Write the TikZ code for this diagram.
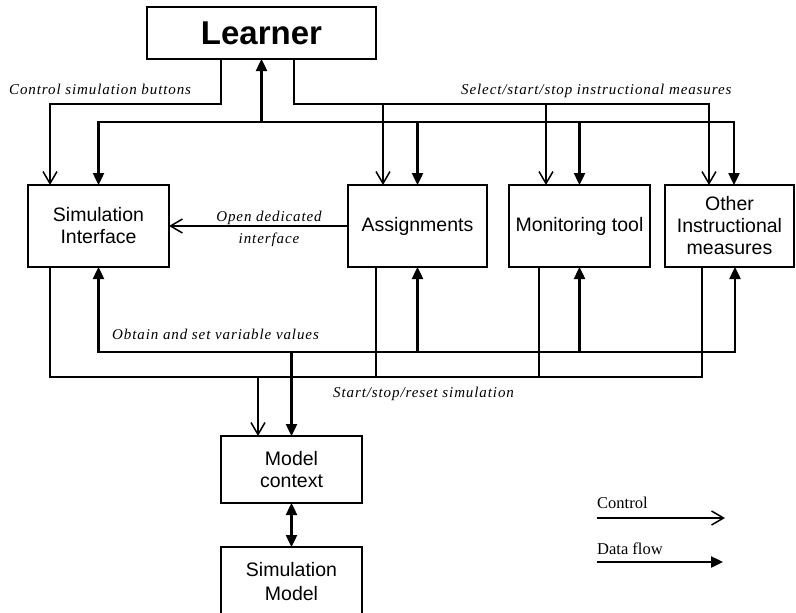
\documentclass[tikz,border=0pt]{standalone}
\usepackage{fontspec}
\setmainfont{Liberation Serif}
\newfontfamily\boxfont{Liberation Sans}
\newfontfamily\labfont[LetterSpace=6]{Liberation Serif}
\usetikzlibrary{arrows.meta}
\begin{document}
\begin{tikzpicture}[x=1pt,y=-1pt,
  box/.style={draw, line width=1.5pt, inner sep=0pt, outer sep=0pt, align=center,
    font=\boxfont\fontsize{19.5}{22}\selectfont},
  ctrl/.style={line width=1.5pt, -{Straight Barb[length=12pt,width=14pt]}},
  ctrlline/.style={line width=1.5pt},
  data/.style={line width=2.4pt, -{Triangle[length=12pt,width=11pt]}},
  databoth/.style={line width=2.4pt, {Triangle[length=12pt,width=11pt]}-{Triangle[length=12pt,width=11pt]}},
  lab/.style={font=\labfont\itshape\fontsize{15}{18}\selectfont, inner sep=0pt, anchor=base west},
  leg/.style={font=\fontsize{16.5}{18}\selectfont, inner sep=0pt, anchor=base west},
]
\useasboundingbox (0,0) rectangle (796,613);

% boxes
\node[box, minimum width=229, minimum height=52,
  font=\boxfont\bfseries\fontsize{33}{36}\selectfont] (learner) at (261.5,33) {Learner};
\node[box, minimum width=141, minimum height=82] (simif) at (98.5,226) {Simulation\\Interface};
\node[box, minimum width=139, minimum height=82] (assign) at (417.5,226) {Assignments};
\node[box, minimum width=141, minimum height=82] (monitor) at (579.5,226) {Monitoring tool};
\node[box, minimum width=129, minimum height=82] (other) at (729.5,226) {Other\\Instructional\\measures};
\node[box, minimum width=141, minimum height=67] (modelctx) at (291.5,469.5) {Model\\context};
\node[box, draw=none, minimum width=141, minimum height=70, anchor=north,
  font=\boxfont\fontsize{19.5}{24}\selectfont] (simmodel) at (291.5,547) {Simulation\\Model};
\draw[line width=1.5pt] (simmodel.south west) -- (simmodel.north west) -- (simmodel.north east) -- (simmodel.south east);

% labels
\node[lab] (lcsb) at (9,94) {Control simulation buttons};
\node[lab] (lsel) at (461,94) {Select/start/stop instructional measures};
\node[lab] (lobt) at (112,339) {Obtain and set variable values};
\node[lab] (lsss) at (333,397) {Start/stop/reset simulation};
\node[lab, anchor=base] (lopen1) at (269,221) {Open dedicated};
\node[lab, anchor=base] (lopen2) at (269,243) {interface};

% control connectors from learner
\draw[ctrl] ([xshift=74]learner.south west) -- ++(0,45) -| ([xshift=22]simif.north west);
\draw[ctrl] ([xshift=147]learner.south west) -- ++(0,45) -| ([xshift=44]other.north west);
\draw[ctrl] ([xshift=35,yshift=81]assign.north west) -- ([xshift=35]assign.north west);
\draw[ctrl] ([xshift=37,yshift=81]monitor.north west) -- ([xshift=37]monitor.north west);

% data bus top
\draw[databoth] (simif.north) -- ++(0,-63) -| ([xshift=69]other.north west);
\draw[data] ([yshift=63]assign.north) -- (assign.north);
\draw[data] ([yshift=63]monitor.north) -- (monitor.north);
\draw[data] ([yshift=-63]learner.south) -- (learner.south);

% open dedicated interface
\draw[ctrl] (assign.west) -- (simif.east);

% data bus bottom
\draw[databoth] (simif.south) -- ++(0,85) -| ([xshift=70]other.south west);
\draw[data] ([yshift=-85]assign.south) -- (assign.south);
\draw[data] ([yshift=-85]monitor.south) -- (monitor.south);
\draw[data] ([yshift=84]modelctx.north) -- (modelctx.north);

% control bus bottom
\draw[ctrlline] ([xshift=22]simif.south west) -- ++(0,110) -| ([xshift=37]other.south west);
\draw[ctrlline] ([xshift=28]assign.south west) -- ++(0,110);
\draw[ctrlline] ([xshift=30]monitor.south west) -- ++(0,110);
\draw[ctrl] ([xshift=37,yshift=59]modelctx.north west) -- ([xshift=37]modelctx.north west);

% model context <-> simulation model
\draw[databoth] (modelctx.south) -- (simmodel.north);

% legend
\node[leg] (legc) at (597,508) {Control};
\node[leg] (legd) at (597,554) {Data flow};
\coordinate (legc1) at (597,518);
\coordinate (legc2) at (725,518);
\coordinate (legd1) at (597,562);
\coordinate (legd2) at (723,562);
\draw[ctrl] (legc1) -- (legc2);
\draw[data] (legd1) -- (legd2);
\end{tikzpicture}
\end{document}
